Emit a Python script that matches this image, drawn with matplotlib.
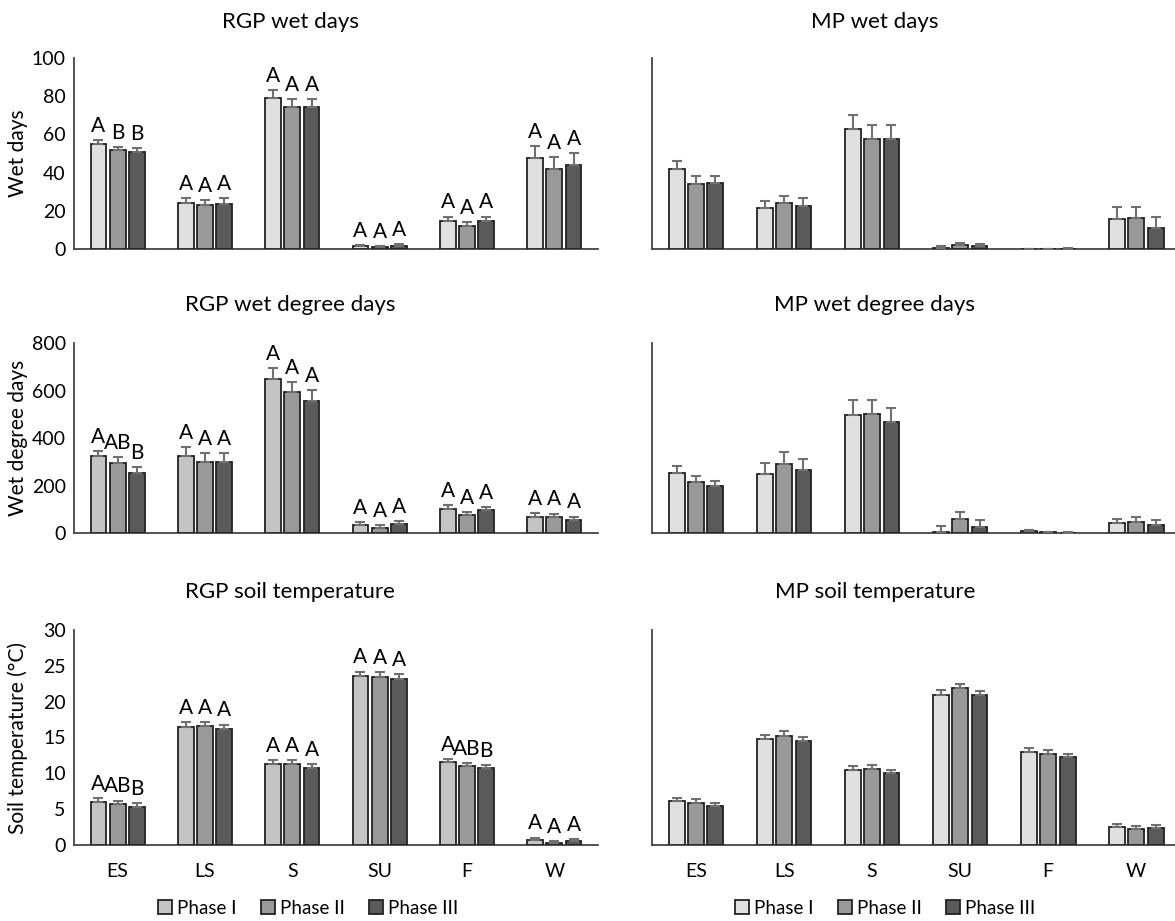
import numpy as np
import matplotlib.pyplot as plt

plt.rcParams['font.family'] = ['Lato', 'DejaVu Sans']

seasons = ['ES', 'LS', 'S', 'SU', 'F', 'W']
phases = ['Phase I', 'Phase II', 'Phase III']

# RGP wet days (mean, upper error)
rgp_wd = [[54.9, 24.0, 79.1, 1.4, 14.9, 47.9],
          [51.6, 23.0, 74.4, 1.0, 12.1, 41.9],
          [50.7, 23.7, 74.6, 1.8, 14.9, 43.9]]
rgp_wd_err = [[2.1, 2.8, 4.2, 0.7, 2.1, 6.0],
              [1.9, 2.8, 4.0, 0.6, 1.9, 6.3],
              [2.1, 2.8, 3.8, 0.7, 2.1, 6.1]]
rgp_wd_let = [['A', 'A', 'A', 'A', 'A', 'A'],
              ['B', 'A', 'A', 'A', 'A', 'A'],
              ['B', 'A', 'A', 'A', 'A', 'A']]

# MP wet days
mp_wd = [[41.9, 21.3, 62.8, 0.5, 0.1, 15.7],
         [34.0, 23.9, 57.8, 2.3, 0.1, 16.1],
         [34.4, 22.5, 57.8, 1.6, 0.2, 11.0]]
mp_wd_err = [[4.3, 4.0, 7.5, 0.9, 0.1, 6.1],
             [4.2, 4.0, 7.3, 1.0, 0.1, 6.1],
             [4.0, 4.0, 7.3, 0.8, 0.1, 5.9]]

# RGP wet degree days
rgp_wdd = [[324, 323, 649, 32, 101, 68],
           [296, 300, 592, 21, 75, 66],
           [254, 301, 556, 38, 96, 54]]
rgp_wdd_err = [[22, 38, 47, 13, 17, 15],
               [22, 35, 45, 13, 14, 16],
               [22, 37, 45, 11, 14, 15]]
rgp_wdd_let = [['A', 'A', 'A', 'A', 'A', 'A'],
               ['AB', 'A', 'A', 'A', 'A', 'A'],
               ['B', 'A', 'A', 'A', 'A', 'A']]

# MP wet degree days
mp_wdd = [[254, 247, 497, 3, 7, 43],
          [214, 292, 500, 60, 3, 47],
          [196, 265, 469, 27, 2, 35]]
mp_wdd_err = [[28, 48, 62, 26, 4, 18],
              [26, 49, 59, 28, 1, 19],
              [25, 48, 58, 26, 2, 18]]

# RGP soil temperature
rgp_st = [[6.0, 16.5, 11.3, 23.6, 11.6, 0.74],
          [5.7, 16.6, 11.3, 23.5, 11.0, 0.28],
          [5.3, 16.2, 10.8, 23.2, 10.7, 0.5]]
rgp_st_err = [[0.5, 0.6, 0.5, 0.6, 0.4, 0.3],
              [0.5, 0.6, 0.5, 0.6, 0.4, 0.3],
              [0.5, 0.6, 0.5, 0.6, 0.4, 0.3]]
rgp_st_let = [['A', 'A', 'A', 'A', 'A', 'A'],
              ['AB', 'A', 'A', 'A', 'AB', 'A'],
              ['B', 'A', 'A', 'A', 'B', 'A']]

# MP soil temperature
mp_st = [[6.1, 14.8, 10.4, 21.0, 13.0, 2.55],
         [5.9, 15.2, 10.6, 21.9, 12.7, 2.3],
         [5.4, 14.5, 10.0, 20.9, 12.3, 2.4]]
mp_st_err = [[0.5, 0.6, 0.6, 0.6, 0.5, 0.35],
             [0.5, 0.7, 0.5, 0.6, 0.5, 0.4],
             [0.5, 0.6, 0.5, 0.6, 0.4, 0.4]]

light_rgp1 = '#e0e0e0'
light_rgp = '#c4c4c4'
light_mp = '#e0e0e0'
mid = '#999999'
dark = '#5a5a5a'

fig = plt.figure(figsize=(11.75, 9.21), dpi=100)

W, H = 1175.0, 921.0
def box(x0, x1, y0, y1):
    return [x0 / W, 1 - y1 / H, (x1 - x0) / W, (y1 - y0) / H]

rows = [(58, 249), (343, 533), (630, 845)]
left_x = (74, 598)
right_x = (652, 1175)

panels = [
    ('RGP wet days', rgp_wd, rgp_wd_err, rgp_wd_let, 100, [0, 20, 40, 60, 80, 100], 'Wet days', light_rgp1),
    ('MP wet days', mp_wd, mp_wd_err, None, 100, None, None, light_mp),
    ('RGP wet degree days', rgp_wdd, rgp_wdd_err, rgp_wdd_let, 800, [0, 200, 400, 600, 800], 'Wet degree days', light_rgp),
    ('MP wet degree days', mp_wdd, mp_wdd_err, None, 800, None, None, light_mp),
    ('RGP soil temperature', rgp_st, rgp_st_err, rgp_st_let, 30, [0, 5, 10, 15, 20, 25, 30], 'Soil temperature (°C)', light_rgp),
    ('MP soil temperature', mp_st, mp_st_err, None, 30, None, None, light_mp),
]

x = np.arange(len(seasons))
bw = 0.18
offs = [-0.22, 0, 0.22]

for i, (title, vals, errs, lets, ymax, yt, ylab, lc) in enumerate(panels):
    r, c = i // 2, i % 2
    xs = left_x if c == 0 else right_x
    ax = fig.add_axes(box(xs[0], xs[1], rows[r][0], rows[r][1]))
    cols = [lc, mid, dark]
    for k in range(3):
        ax.bar(x + offs[k], vals[k], bw, color=cols[k], edgecolor='#222222',
               linewidth=1.3, label=phases[k], zorder=3,
               yerr=[np.zeros(6), errs[k]], error_kw=dict(ecolor='#707070', elinewidth=1.5,
                                                            capsize=3.5, capthick=1.5))
        if lets is not None:
            for j in range(6):
                ax.annotate(lets[k][j], (x[j] + offs[k], vals[k][j] + errs[k][j]),
                            xytext=(0, 3), textcoords='offset points',
                            ha='center', va='bottom', fontsize=15, annotation_clip=False)
    ax.set_ylim(0, ymax)
    if c == 0:
        ax.set_xlim(-0.5, 5.5)
        ax.set_yticks(yt)
        ax.tick_params(axis='y', length=0, labelsize=14, pad=6)
        ax.set_ylabel(ylab, fontsize=15)
        ax.yaxis.set_label_coords(-0.088, 0.5)
    else:
        ax.set_xlim(-0.5, 5.44)
        ax.set_yticks([])
    ax.set_xticks(x)
    ax.tick_params(axis='x', length=0, labelsize=14, pad=13)
    if r < 2:
        ax.set_xticklabels([])
    else:
        ax.set_xticklabels(seasons)
    for s in ['top', 'right']:
        ax.spines[s].set_visible(False)
    for s in ['left', 'bottom']:
        ax.spines[s].set_color('#444444')
        ax.spines[s].set_linewidth(1.3)
    tx = 290 if c == 0 else 875
    ty = [22, 305, 592][r]
    fig.text(tx / W, 1 - ty / H, title, ha='center', va='center', fontsize=16)
    if r == 2:
        lx = 308 if c == 0 else 885
        ax.legend(loc='center', bbox_to_anchor=(lx / W, 1 - 908 / H),
                  bbox_transform=fig.transFigure, ncol=3, frameon=False,
                  fontsize=13.5, handlelength=0.75, handleheight=0.75,
                  handletextpad=0.25, columnspacing=1.3)

plt.savefig('out.png', dpi=100)
